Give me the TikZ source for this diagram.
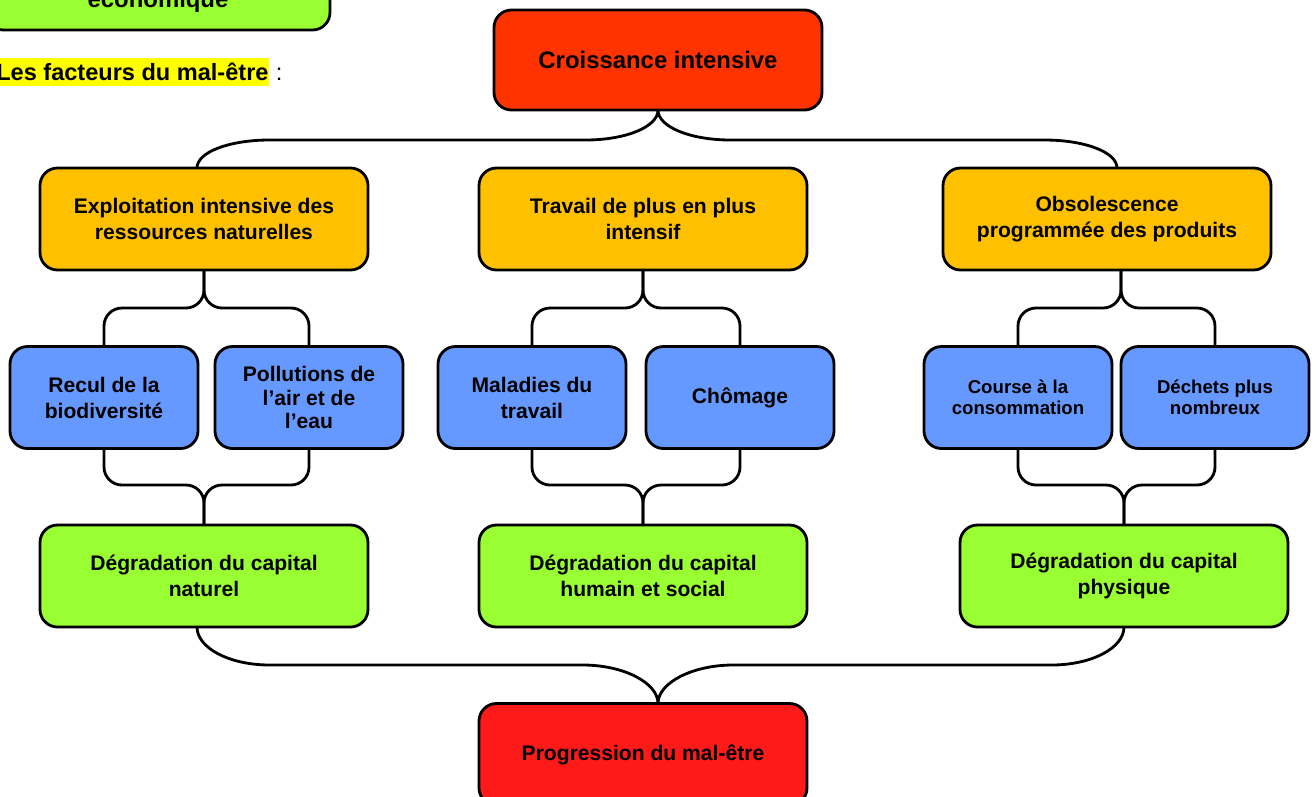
\documentclass[tikz,border=0pt]{standalone}
\usepackage{fontspec}
\setmainfont{Liberation Sans}
\usepackage{tikz}
\usetikzlibrary{positioning,calc}

\definecolor{growthcol}{HTML}{FF3300}
\definecolor{factorcol}{HTML}{FFC000}
\definecolor{effectcol}{HTML}{6699FF}
\definecolor{capitalcol}{HTML}{99FF33}
\definecolor{outcomecol}{HTML}{FF1A1A}
\definecolor{marker}{HTML}{FFFF00}

\begin{document}
\begin{tikzpicture}[
    auto,
    node distance=3.57cm,
    box/.style={
		rectangle,
		rounded corners=0.35cm,
		draw=black,
		line width=1.6pt,
		outer sep=0pt,
		align=center,
		font=\bfseries\fontsize{12}{14.8}\selectfont,
		minimum width=6.56cm,
		minimum height=2.04cm
	},
	factor/.style={box, fill=factorcol},
	effect/.style={box, fill=effectcol, minimum width=3.76cm},
	capital/.style={box, fill=capitalcol},
	small/.style={font=\bfseries\fontsize{10.6}{12.2}\selectfont},
	link/.style={draw, line width=1.6pt}
  ]
  \useasboundingbox (0,0) rectangle (26.32,-15.92);
  \clip (0,0) rectangle (26.32,-15.92);

  % what is left of the previous part
  \node [capital, minimum width=6.88cm, anchor=south east] (eco) at (6.6,-0.6) {};
  \node [anchor=base, font=\bfseries\fontsize{13.6}{16}\selectfont] (ecotext) at ([yshift=0.46cm]eco.south) {économique};

  \node [fill=marker, anchor=base west, inner sep=0pt, text height=0.44cm, text depth=0.12cm,
         font=\bfseries\fontsize{13.4}{16}\selectfont] (facteurs) at (-0.08,-1.6) {Les facteurs du mal-être};
  \node [anchor=base west, inner sep=0pt, font=\fontsize{13.4}{16}\selectfont] (deuxpoints) at (facteurs.base east) {\ :};

  % the blocks
  \node [box, fill=growthcol, minimum height=2.0cm, font=\bfseries\fontsize{13.6}{16}\selectfont] (croissance) at (13.16,-1.2) {Croissance intensive};

  \node [factor, below of=croissance, xshift=-9.08cm, yshift=0.39cm] (exploitation) {Exploitation intensive des\\ressources naturelles};
  \node [factor, below of=croissance, xshift=-0.30cm, yshift=0.39cm] (travail) {Travail de plus en plus\\intensif};
  \node [factor, below of=croissance, xshift=8.98cm, yshift=0.39cm] (obsolescence) {Obsolescence\\programmée des produits};

  \node [effect, below of=exploitation, xshift=-2.0cm] (recul) {Recul de la\\biodiversité};
  \node [effect, below of=exploitation, xshift=2.1cm, font=\bfseries\fontsize{12}{13.6}\selectfont] (pollutions) {Pollutions de\\l’air et de\\l’eau};
  \node [effect, below of=travail, xshift=-2.22cm] (maladies) {Maladies du\\travail};
  \node [effect, below of=travail, xshift=1.94cm] (chomage) {Chômage};
  \node [effect, small, below of=obsolescence, xshift=-1.78cm] (course) {Course à la\\consommation};
  \node [effect, small, below of=obsolescence, xshift=2.16cm] (dechets) {Déchets plus\\nombreux};

  \node [capital, below of=recul, xshift=2.0cm] (naturel) {Dégradation du capital\\naturel};
  \node [capital, below of=maladies, xshift=2.22cm] (humain) {Dégradation du capital\\humain et social};
  \node [capital, below of=course, xshift=2.12cm] (physique) {Dégradation du capital\\physique};

  \node [box, fill=outcomecol, below of=humain] (progression) {Progression du mal-être};

  \coordinate (tipdown) at (progression.north -| croissance.south);

  % the braces
  \draw [link] ([xshift=-0.14cm]exploitation.north) .. controls +(0,0.32) and +(-0.8,0) .. ++(1.45,0.56)
     -- ([shift={(-1.45,-0.6)}]croissance.south) .. controls +(0.8,0) and +(0,-0.34) .. (croissance.south);
  \draw [link] ([xshift=0.2cm]obsolescence.north) .. controls +(0,0.32) and +(0.8,0) .. ++(-1.45,0.56)
     -- ([shift={(1.45,-0.6)}]croissance.south) .. controls +(-0.8,0) and +(0,-0.34) .. (croissance.south);

  \draw [link, rounded corners=0.36cm] (recul.north) |- ($(exploitation.south)+(0,-0.76)$) -- (exploitation.south);
  \draw [link, rounded corners=0.36cm] (pollutions.north) |- ($(exploitation.south)+(0,-0.76)$) -- (exploitation.south);
  \draw [link, rounded corners=0.36cm] (maladies.north) |- ($(travail.south)+(0,-0.76)$) -- (travail.south);
  \draw [link, rounded corners=0.36cm] (chomage.north) |- ($(travail.south)+(0,-0.76)$) -- (travail.south);
  \draw [link, rounded corners=0.36cm] (course.north) |- ($(obsolescence.south)+(0.28,-0.76)$) -- ([xshift=0.28cm]obsolescence.south);
  \draw [link, rounded corners=0.36cm] (dechets.north) |- ($(obsolescence.south)+(0.28,-0.76)$) -- ([xshift=0.28cm]obsolescence.south);

  \draw [link, rounded corners=0.36cm] (recul.south) |- ($(naturel.north)+(0,0.8)$) -- (naturel.north);
  \draw [link, rounded corners=0.36cm] (pollutions.south) |- ($(naturel.north)+(0,0.8)$) -- (naturel.north);
  \draw [link, rounded corners=0.36cm] (maladies.south) |- ($(humain.north)+(0,0.8)$) -- (humain.north);
  \draw [link, rounded corners=0.36cm] (chomage.south) |- ($(humain.north)+(0,0.8)$) -- (humain.north);
  \draw [link, rounded corners=0.36cm] (course.south) |- ($(physique.north)+(0,0.8)$) -- (physique.north);
  \draw [link, rounded corners=0.36cm] (dechets.south) |- ($(physique.north)+(0,0.8)$) -- (physique.north);

  \draw [link] ([xshift=-0.14cm]naturel.south) .. controls +(0,-0.42) and +(-0.8,0) .. ++(1.45,-0.76)
     -- ([shift={(-1.5,0.77)}]tipdown) .. controls +(0.8,0) and +(0,0.42) .. (tipdown);
  \draw [link] (physique.south) .. controls +(0,-0.42) and +(0.8,0) .. ++(-1.45,-0.76)
     -- ([shift={(1.5,0.77)}]tipdown) .. controls +(-0.8,0) and +(0,0.42) .. (tipdown);

\end{tikzpicture}
\end{document}
